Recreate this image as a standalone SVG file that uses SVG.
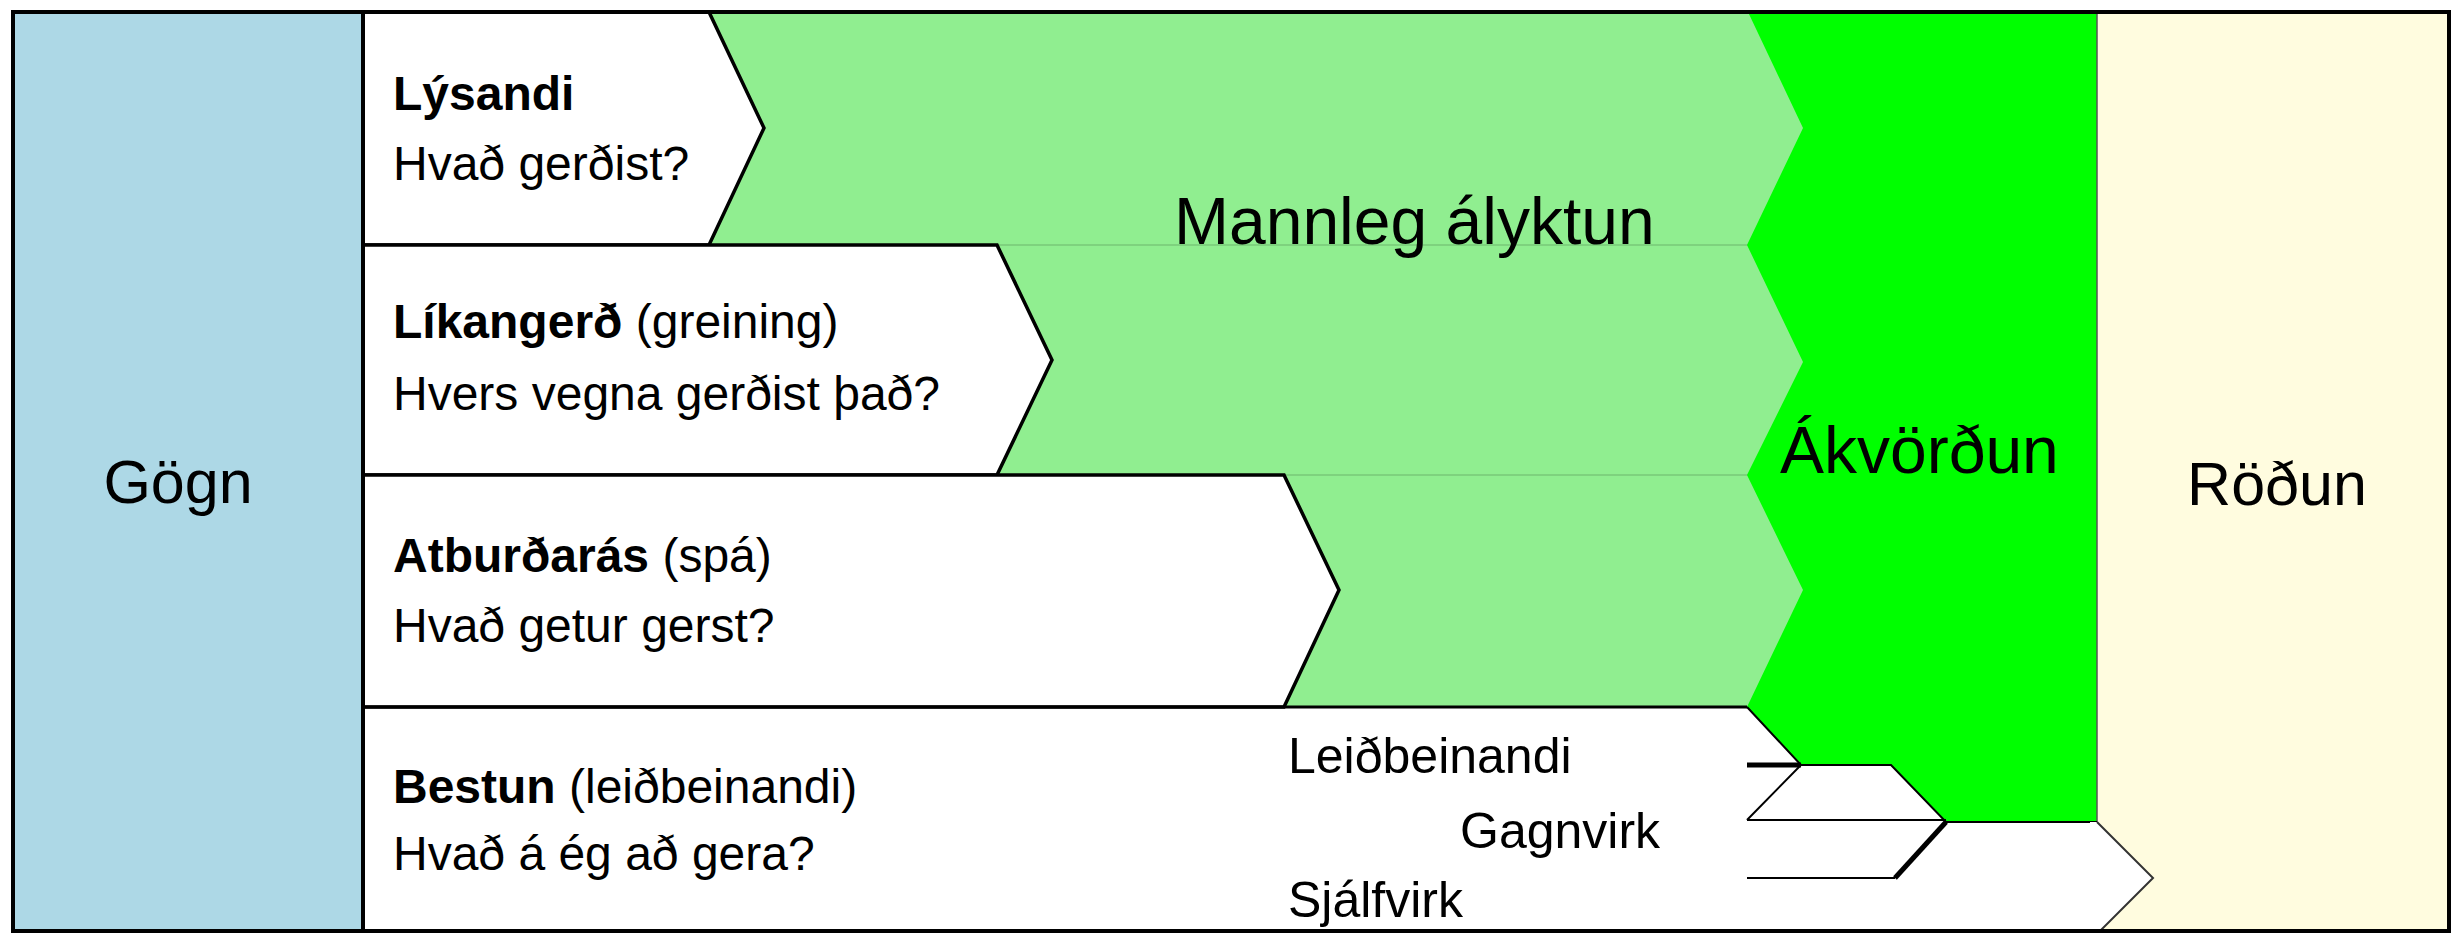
<svg xmlns="http://www.w3.org/2000/svg" width="2455" height="933" viewBox="0 0 2455 933">
<style>
text{font-family:"Liberation Sans",Arial,sans-serif;fill:#000}
.t{font-size:48px}
.b{font-weight:bold}
.big{font-size:61px}
.mid{font-size:66px}
.sm{font-size:50px}
.arrow{fill:#fff;stroke:#000;stroke-width:3.5;stroke-linejoin:miter}
.thin{stroke:#000;stroke-width:2;fill:none}
.thick{stroke:#000;stroke-width:5;fill:none}
</style>
<rect x="0" y="0" width="2455" height="933" fill="#fff"/>
<g id="mannleg">
<rect x="363" y="12" width="1445" height="695" fill="#90EE90"/>
<line x1="700" y1="245" x2="1760" y2="245" stroke="#78c878" stroke-width="1.5"/>
<line x1="990" y1="475" x2="1760" y2="475" stroke="#78c878" stroke-width="1.5"/>
<text class="mid" x="1174" y="244">Mannleg ályktun</text>
</g>
<g id="akvordun">
<polygon points="1748,12 1803,128 1747,245 1803,362 1747,475 1803,590 1747,707 1801,765 1891,765 1946,822 2097,822 2097,12" fill="#00FF00"/>
<text class="mid" x="1780" y="473">Ákvörðun</text>
</g>
<g id="rodun">
<rect x="2097" y="12" width="352" height="919" fill="#FFFCDF"/>
<line x1="2097" y1="12" x2="2097" y2="822" stroke="#555" stroke-width="1.5"/>
<text class="big" x="2277" y="505" text-anchor="middle">Röðun</text>
</g>
<g id="lysandi">
<polygon class="arrow" points="363,12 709,12 764,128 709,245 363,245"/>
<text class="t" x="393" y="110"><tspan class="b">Lýsandi</tspan></text>
<text class="t" x="393" y="180">Hvað gerðist?</text>
</g>
<g id="likangerd">
<polygon class="arrow" points="363,245 997,245 1052,360 997,475 363,475"/>
<text class="t" x="393" y="338"><tspan class="b">Líkangerð</tspan> (greining)</text>
<text class="t" x="393" y="410">Hvers vegna gerðist það?</text>
</g>
<g id="atburdaras">
<polygon class="arrow" points="363,475 1284,475 1339,590 1284,707 363,707"/>
<text class="t" x="393" y="572"><tspan class="b">Atburðarás</tspan> (spá)</text>
<text class="t" x="393" y="642">Hvað getur gerst?</text>
</g>
<g id="bestun">
<line x1="363" y1="707" x2="1747" y2="707" stroke="#000" stroke-width="3"/>
<text class="t" x="393" y="803"><tspan class="b">Bestun</tspan> (leiðbeinandi)</text>
<text class="t" x="393" y="870">Hvað á ég að gera?</text>
</g>
<g id="connectors">
<polyline class="thin" points="1747,707 1801,765 1747,820"/>
<line class="thick" x1="1747" y1="765" x2="1801" y2="765"/>
<polyline class="thin" points="1801,765 1891,765 1946,822 2097,822"/>
<line class="thin" x1="1747" y1="820" x2="1946" y2="820"/>
<line class="thick" x1="1946" y1="822" x2="1895" y2="878"/>
<line class="thin" x1="1747" y1="878" x2="1895" y2="878"/>
<polygon points="2090,822 2097,822 2153,878 2097,934 2090,934" fill="#fff"/>
<polyline points="2097,822 2153,878 2097,934" fill="none" stroke="#333" stroke-width="2"/>
</g>
<g id="bestun-labels">
<text class="sm" x="1288" y="773">Leiðbeinandi</text>
<text class="sm" x="1460" y="848">Gagnvirk</text>
<text class="sm" x="1288" y="917">Sjálfvirk</text>
</g>
<g id="gogn">
<rect x="13" y="12" width="350" height="919" fill="#ADD8E6" stroke="#000" stroke-width="4"/>
<text class="big" x="178" y="503" text-anchor="middle">Gögn</text>
</g>
<rect id="frame" x="13" y="12" width="2436" height="919" fill="none" stroke="#000" stroke-width="4"/>
</svg>
